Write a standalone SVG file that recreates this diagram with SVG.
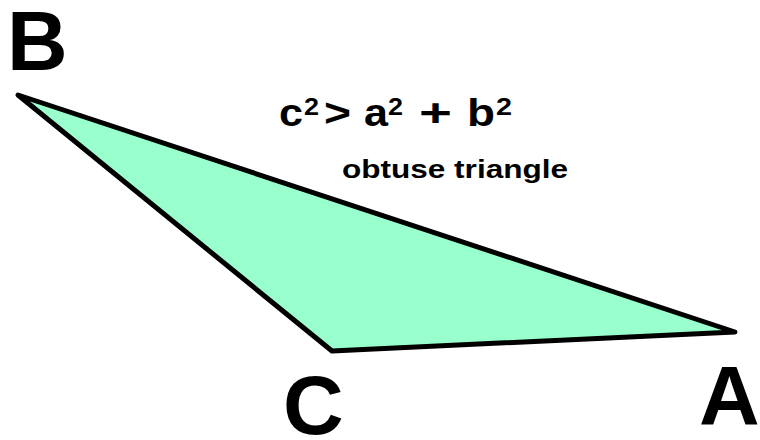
<svg xmlns="http://www.w3.org/2000/svg" width="760" height="440" viewBox="0 0 760 440">
<style>
.t{font-family:"Liberation Sans",Arial,sans-serif;font-weight:bold;fill:#000}
.big{font-size:84px}
.f{font-size:39px}
.s{font-size:24px}
</style>
<rect width="760" height="440" fill="#fff"/>
<g id="triangle">
<polygon points="18,95 332,351 735,332" fill="#99ffcc" stroke="#000" stroke-width="5" stroke-linejoin="round"/>
</g>
<g id="labels">
<text class="t big" x="7" y="70">B</text>
<text class="t big" x="283" y="434">C</text>
<text class="t big" x="699" y="425">A</text>
</g>
<g id="formula">
<text class="t f" x="279" y="126" textLength="24" lengthAdjust="spacingAndGlyphs">c</text>
<text class="t s" x="304" y="115" textLength="15" lengthAdjust="spacingAndGlyphs">2</text>
<text class="t f" x="324" y="126" textLength="27" lengthAdjust="spacingAndGlyphs">&gt;</text>
<text class="t f" x="364" y="126" textLength="24" lengthAdjust="spacingAndGlyphs">a</text>
<text class="t s" x="388" y="115" textLength="15" lengthAdjust="spacingAndGlyphs">2</text>
<text class="t f" x="419" y="126" textLength="33" lengthAdjust="spacingAndGlyphs">+</text>
<text class="t f" x="467" y="126" textLength="28" lengthAdjust="spacingAndGlyphs">b</text>
<text class="t s" x="496" y="115" textLength="16" lengthAdjust="spacingAndGlyphs">2</text>
<text class="t" x="342" y="178" font-size="25" textLength="226" lengthAdjust="spacingAndGlyphs">obtuse triangle</text>
</g>
</svg>
